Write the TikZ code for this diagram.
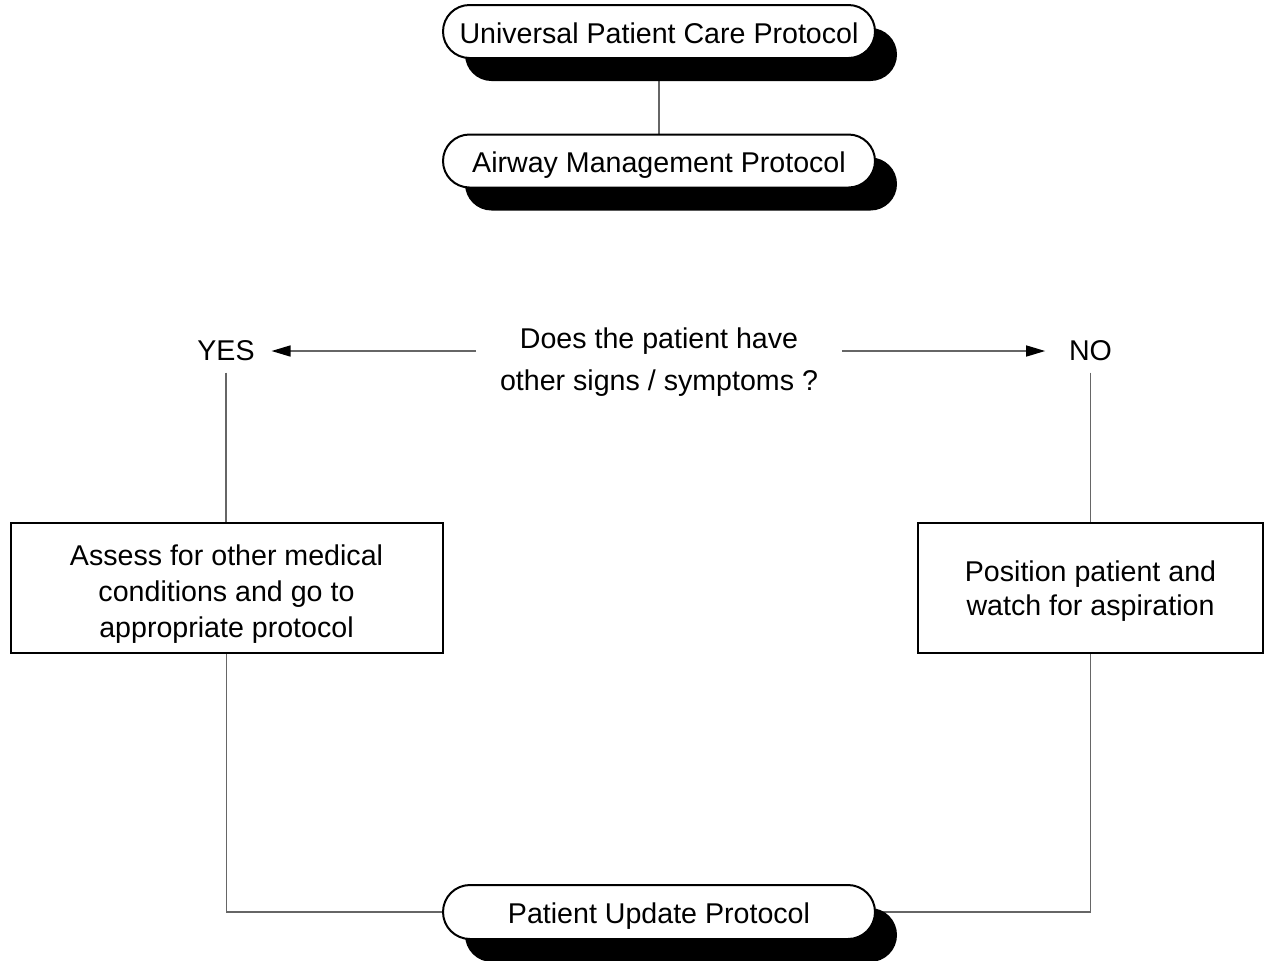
\documentclass[tikz,border=0pt]{standalone}
\usepackage{fontspec}
\setmainfont{Liberation Sans}
\usetikzlibrary{shapes.misc,shadows,arrows.meta,backgrounds}
\begin{document}
\begin{tikzpicture}[x=0.5pt,y=-0.5pt,
  font=\fontsize{14.3}{18}\selectfont,
  terminal/.style={rounded rectangle, draw=black, line width=1pt, fill=white,
    minimum width=216pt, minimum height=26.5pt, inner sep=0pt,
    text height=13.8pt, text depth=2.2pt,
    drop shadow={shadow xshift=11pt, shadow yshift=-11.5pt, fill=black, opacity=1}},
  procbox/.style={rectangle, draw=black, line width=1pt, fill=white,
    minimum height=65pt, inner sep=0pt},
  proctext/.style={align=center, inner sep=0pt},
  label/.style={inner sep=0pt},
  link/.style={draw=black!60, line width=0.75pt},
  arr/.style={link, -{Triangle[length=9.5pt,width=5.5pt,color=black]}},
  ]
\path[use as bounding box] (0,0) rectangle (1264,960);

% protocol terminals
\node[terminal] (upc) at (659,31.5) {Universal Patient Care Protocol};
\node[terminal] (amp) at (659,161) {Airway Management Protocol};
\node[terminal, minimum height=27pt] (pup) at (659,912) {Patient Update Protocol};

% decision question and its two outcomes
\node[align=center, inner xsep=11.75pt, inner ysep=0pt,
      font=\fontsize{14.3}{21}\selectfont] (q) at (659,362)
  {Does the patient have\\other signs / symptoms ?};
\node[label] (yes) at (226,351) {YES};
\node[label] (no) at (1090.5,351) {NO};

% action boxes and their texts
\node[procbox, minimum width=216pt] (lbox) at (226.5,588) {};
\node[proctext] (ltext) at (226.5,594)
  {Assess for other medical\\conditions and go to\\appropriate protocol};
\node[procbox, minimum width=172.5pt] (rbox) at (1090.5,588) {};
\node[proctext, font=\fontsize{14.3}{17}\selectfont] (rtext) at (1090.5,591)
  {Position patient and\\watch for aspiration};

% connectors
\begin{scope}[on background layer]
  \draw[link] (upc.south) -- (amp.north);
  \draw[arr, shorten >=8.25pt] (q.west |- yes) -- (yes.east);
  \draw[arr, shorten >=11.75pt] (q.east |- no) -- (no.west);
  \draw[link, shorten <=5.5pt] (yes.south) -- (yes.south |- lbox.north);
  \draw[link, shorten <=5.5pt] (no.south) -- (no.south |- rbox.north);
  \draw[link] (lbox.south) |- (pup.west);
  \draw[link] (rbox.south) |- (pup.east);
\end{scope}
\end{tikzpicture}
\end{document}
